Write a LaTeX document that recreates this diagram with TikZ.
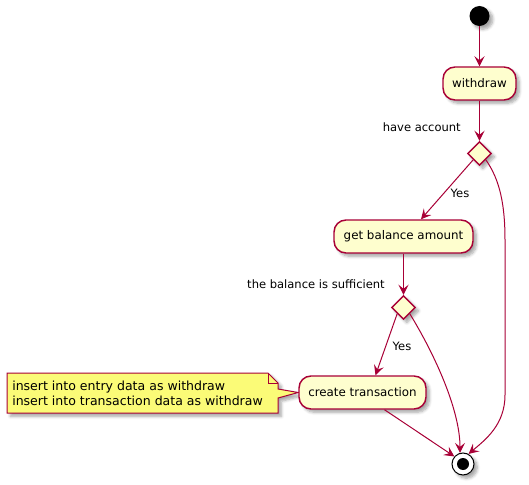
\documentclass[tikz,border=0pt]{standalone}
\usepackage{fontspec}
\setmainfont{DejaVu Sans}
\usetikzlibrary{shapes.geometric,arrows.meta,shadows.blur,calc,backgrounds}
\definecolor{pbord}{HTML}{A80036}
\definecolor{pfill}{HTML}{FEFECE}
\definecolor{pnote}{HTML}{FBFB77}
\begin{document}
\begin{tikzpicture}[x=0.75pt,y=-0.75pt,
  shad/.style={blur shadow={shadow xshift=2.5pt,shadow yshift=-2.5pt,shadow blur steps=6,shadow opacity=35}},
  act/.style={draw=pbord,fill=pfill,line width=1.1pt,rounded corners=9pt,minimum height=24.75pt,inner sep=0pt,font=\fontsize{8.9}{10}\selectfont,shad},
  dec/.style={diamond,draw=pbord,fill=pfill,line width=1.1pt,minimum width=18pt,minimum height=18pt,inner sep=0pt,shad},
  flow/.style={draw=pbord,line width=0.75pt,-{Stealth[length=7.5pt,width=7.5pt,inset=3pt]}},
  lbl/.style={font=\fontsize{8.65}{10}\selectfont,inner sep=0pt}
]
\useasboundingbox (0,0) rectangle (529,485);
% nodes
\node[circle,fill=black,minimum size=15pt,inner sep=0pt,shad] (start) at (479.5,16) {};
\node[act,minimum width=54.75pt] (w) at (479.5,83.5) {withdraw};
\node[dec] (d1) at (479.5,153.5) {};
\node[lbl,anchor=east] (l1) at (461,127) {have account};
\node[act,minimum width=104.25pt] (gb) at (403.5,236.5) {get balance amount};
\node[dec] (d2) at (403.5,307.5) {};
\node[lbl,anchor=east] (l2) at (385,284) {the balance is sufficient};
\node[act,minimum width=95.25pt] (ct) at (362.5,392.5) {create transaction};
\node[circle,draw=black,fill=white,line width=0.75pt,minimum size=16.5pt,inner sep=0pt,shad] (end) at (463,464) {};
\node[circle,fill=black,minimum size=9pt,inner sep=0pt] (endc) at (end) {};
% note
\begin{scope}[on background layer]
\draw[draw=pbord,fill=pnote,line width=0.75pt,shad] (7,373) -- (268,373) -- (278,383) -- (278,389) -- (ct.west) -- (278,398) -- (278,413) -- (7,413) -- cycle;
\draw[draw=pbord,line width=0.75pt] (268,373) -- (268,383) -- (278,383);
\end{scope}
\node[anchor=west,align=left,inner sep=0pt,font=\fontsize{9.4}{11.25}\selectfont] (nt) at (12,393.5) {insert into entry data as withdraw\\insert into transaction data as withdraw};
% labels
\node[lbl] (y1) at (460,193) {Yes};
\node[lbl] (y2) at (402,346) {Yes};
% edges
\draw[flow] (start) -- (w);
\draw[flow] (w) -- (d1);
\draw[flow] (d1.south west) -- ($(gb.north)+(17.5,0)$);
\draw[flow] (gb) -- (d2);
\draw[flow] (d2.south west) -- ($(ct.north)+(13,0)$);
\draw[flow] ($(ct.south)+(22,0)$) -- (end.139);
\draw[flow] (d2.south east) .. controls (435,355) and (460,410) .. (end.105);
\draw[flow] (d1.south east) .. controls (500,180) and (505,205) .. (505,240) -- (505,395) .. controls (505,425) and (485,440) .. (end.61);
\end{tikzpicture}
\end{document}
